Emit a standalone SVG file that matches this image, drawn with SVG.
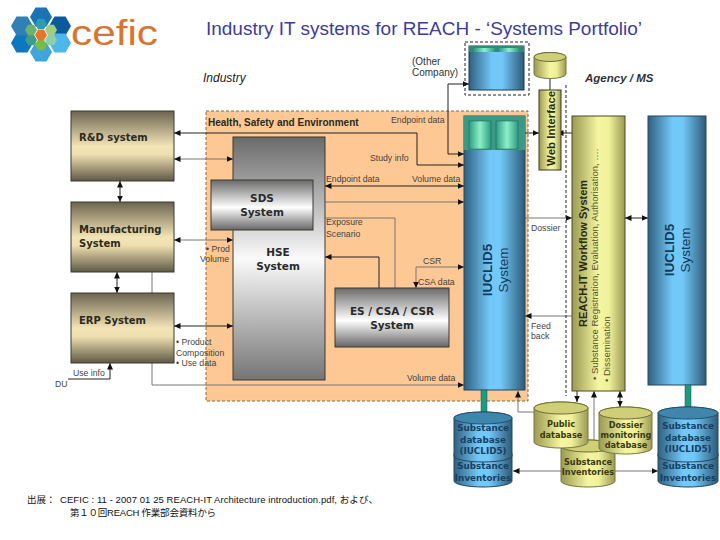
<svg xmlns="http://www.w3.org/2000/svg" width="720" height="540" viewBox="0 0 720 540">
<style>
text{font-family:"Liberation Sans",Arial,sans-serif}
.box{font-family:"DejaVu Sans",sans-serif;font-weight:700;font-size:10px;fill:#2c2a20}
.gb{font-family:"DejaVu Sans",sans-serif;font-weight:700;font-size:10.5px;fill:#2a2a2a;text-anchor:middle}
.lbl{font-size:8.7px;fill:#444}
.db{font-family:"DejaVu Sans",sans-serif;font-weight:700;font-size:8.8px;fill:#17405f;text-anchor:middle}
.dby{font-family:"DejaVu Sans",sans-serif;font-weight:700;font-size:8.2px;fill:#3a3a10;text-anchor:middle}
.l{fill:none;stroke:#222;stroke-width:1;marker-end:url(#a)}
.g{fill:none;stroke:#777;stroke-width:1;marker-end:url(#a)}
.b{marker-start:url(#a)}
.n{marker-end:none}
.edge{stroke:#3a3a30;stroke-width:1}
.dash{fill:none;stroke:#222;stroke-width:1;stroke-dasharray:3 2}
.top-b{fill:#3f86ad;stroke:#24506c}
.top-y{fill:#cfcf78;stroke:#6e6e30}
</style>
<defs>
<marker id="a" markerUnits="userSpaceOnUse" markerWidth="7" markerHeight="7" refX="6.5" refY="3" orient="auto-start-reverse"><path d="M0 0L6.500 3L0 6Z" fill="#111"/></marker>
<linearGradient id="tan" x1="0" y1="0" x2="0" y2="1"><stop offset="0" stop-color="#6b6450"/><stop offset=".5" stop-color="#f3e4b6"/><stop offset=".62" stop-color="#efe0b0"/><stop offset="1" stop-color="#5e5946"/></linearGradient>
<linearGradient id="grey" x1="0" y1="0" x2="0" y2="1"><stop offset="0" stop-color="#6a6a6a"/><stop offset=".55" stop-color="#fff"/><stop offset="1" stop-color="#666"/></linearGradient>
<linearGradient id="hse" x1="0" y1="0" x2="0" y2="1"><stop offset="0" stop-color="#6a6a6a"/><stop offset=".5" stop-color="#fafafa"/><stop offset="1" stop-color="#757575"/></linearGradient>
<linearGradient id="blue" x1="0" y1="0" x2="1" y2="0"><stop offset="0" stop-color="#2f6080"/><stop offset=".42" stop-color="#72c8f8"/><stop offset=".6" stop-color="#72c8f8"/><stop offset="1" stop-color="#2d5a78"/></linearGradient>
<linearGradient id="yel" x1="0" y1="0" x2="1" y2="0"><stop offset="0" stop-color="#9a9a52"/><stop offset=".5" stop-color="#f6f6a2"/><stop offset=".7" stop-color="#f0f09a"/><stop offset="1" stop-color="#9a9a52"/></linearGradient>
<linearGradient id="grn" x1="0" y1="0" x2="1" y2="0"><stop offset="0" stop-color="#2f9c80"/><stop offset=".5" stop-color="#8cf0c8"/><stop offset="1" stop-color="#2f9c80"/></linearGradient>
<polygon id="hx" points="-11,0 -5.500,-9.500 5.500,-9.500 11,0 5.500,9.500 -5.500,9.500"/>
<polygon id="hs" points="-6,0 -3,-5.200 3,-5.200 6,0 3,5.200 -3,5.200"/>
</defs>
<rect width="720" height="540" fill="#fff"/>

<g id="logo">
<use href="#hx" x="41" y="17" fill="#1b72b4"/><use href="#hx" x="60" y="26" fill="#0c5a9e"/><use href="#hx" x="60" y="43" fill="#4db6ea"/>
<use href="#hx" x="41" y="52" fill="#3ea6dc"/><use href="#hx" x="22" y="43" fill="#0d78c0"/><use href="#hx" x="22" y="26" fill="#2f80b4"/>
<use href="#hs" x="41" y="24" fill="#2c9cb0"/><use href="#hs" x="51" y="30" fill="#9ecf80"/><use href="#hs" x="51" y="40" fill="#8ccfa8"/>
<use href="#hs" x="41" y="45" fill="#78bc44"/><use href="#hs" x="31" y="40" fill="#3e9c88"/><use href="#hs" x="31" y="30" fill="#6cb46c"/>
<use href="#hs" x="41" y="35" fill="#e8742a"/>
<text x="71" y="45" font-size="35" fill="#d9742e" textLength="87" lengthAdjust="spacingAndGlyphs">cefic</text>
</g>
<text x="206" y="35" font-size="17.500" fill="#3c3c9c" textLength="436" lengthAdjust="spacingAndGlyphs">Industry IT systems for REACH - ‘Systems Portfolio’</text>
<text x="203" y="82" font-size="12" font-style="italic" fill="#222">Industry</text>
<text x="585" y="82" font-size="11.500" font-weight="700" font-style="italic" fill="#333">Agency / MS</text>
<text x="412" y="65" font-size="10" fill="#333">(Other</text>
<text x="412" y="76" font-size="10" fill="#333">Company)</text>

<g id="hse-area"><rect x="206" y="111" width="322" height="290" fill="#fdc894" stroke="#7a6a50" stroke-dasharray="3 2"/>
<text x="208" y="126" font-size="10" font-weight="700" fill="#2a2a20">Health, Safety and Environment</text></g>

<g id="connectors">
<path class="l b" d="M174 133H417V165H464"/>
<path class="g b" d="M174 159H233"/>
<path class="g b" d="M174 240H233"/>
<path class="l b" d="M174 326H233"/>
<path class="l b" d="M120 181V202"/>
<path class="l b" d="M117 272V293"/>
<path class="g" d="M152 272V385H464"/>
<path class="l" d="M68 379H110V363"/>
<path class="l b" d="M325 186H464"/>
<path class="g b" d="M315 202H464"/>
<path class="g" d="M395 288V218H315"/>
<path class="l" d="M379 288V257H325"/>
<path class="g b" d="M416 288V267H464"/>
<path class="l b" d="M469 84H448V154H464"/>
<path class="l n" d="M550 79V90"/>
<path class="l b" d="M513 133H539"/>
<path class="l b" d="M557 133H582"/>
<path class="g" d="M525 218H572"/>
<path class="l b" d="M625 218H648"/>
<path class="g" d="M572 316H525"/>
<path class="l" d="M577 391V402"/>
<path class="g" d="M594 440V391"/>
<path class="l b" d="M620 391V407"/>
<path class="g" d="M534 412H518V391"/>
<path class="g" d="M561 471H513"/>
<path class="g" d="M615 471H658"/>
</g>

<g id="rd-system"><rect x="71" y="111" width="103" height="70" fill="url(#tan)" class="edge"/><text x="79" y="141" class="box">R&amp;D system</text></g>
<g id="manufacturing-system"><rect x="71" y="202" width="103" height="70" fill="url(#tan)" class="edge"/><text x="79" y="233" class="box">Manufacturing</text><text x="79" y="247" class="box">System</text></g>
<g id="erp-system"><rect x="71" y="293" width="103" height="70" fill="url(#tan)" class="edge"/><text x="79" y="324" class="box">ERP System</text></g>

<g id="hse-system"><rect x="233" y="137" width="92" height="243" fill="url(#hse)" class="edge"/><text x="278" y="256" class="gb">HSE</text><text x="278" y="270" class="gb">System</text></g>
<g id="sds-system"><rect x="211" y="180" width="102" height="50" fill="url(#grey)" class="edge"/><text x="262" y="202" class="gb">SDS</text><text x="262" y="216" class="gb">System</text></g>
<g id="es-system"><rect x="335" y="288" width="114" height="59" fill="url(#grey)" class="edge"/><text x="392" y="315" class="gb">ES / CSA / CSR</text><text x="392" y="329" class="gb">System</text></g>

<g id="other-company"><rect x="465" y="42" width="64" height="53" class="dash"/><rect x="469" y="46" width="55" height="44" fill="url(#blue)" stroke="#1d3a50"/><rect x="469" y="46" width="55" height="6" fill="#2f8a78"/><rect x="474" y="48" width="21" height="4" fill="url(#grn)"/><rect x="499" y="48" width="20" height="4" fill="url(#grn)"/></g>

<g id="iuclid-left"><rect x="464" y="116" width="61" height="274" fill="url(#blue)" stroke="#24465c"/><rect x="464" y="116" width="61" height="34" fill="#3a9a88"/><rect x="469" y="121" width="22" height="28" fill="url(#grn)" stroke="#1e5a50" stroke-width=".5"/><rect x="496" y="121" width="22" height="28" fill="url(#grn)" stroke="#1e5a50" stroke-width=".5"/>
<text transform="translate(492 270) rotate(-90)" font-size="13.500" font-weight="700" fill="#123c5a" text-anchor="middle">IUCLID5</text><text transform="translate(508 270) rotate(-90)" font-size="13.500" fill="#123c5a" text-anchor="middle">System</text></g>

<g id="web-db"><path d="M534 57A16 4.500 0 0 1 566 57V74A16 4.500 0 0 1 534 74Z" fill="url(#yel)" stroke="#777740"/><ellipse cx="550" cy="57" rx="16" ry="4.500" class="top-y"/></g>
<g id="web-interface"><rect x="539" y="90" width="22" height="80" fill="url(#yel)" stroke="#3a3a20"/><text transform="translate(555 166) rotate(-90)" font-size="11.500" font-weight="700" fill="#2a2a10">Web Interface</text></g>

<g id="reach-it"><rect x="572" y="116" width="53" height="275" fill="url(#yel)" stroke="#4a4a28"/>
<text transform="translate(587 327) rotate(-90)" font-size="11" font-weight="700" fill="#2a2a14">REACH-IT Workflow System</text>
<text transform="translate(598 380) rotate(-90)" font-size="9.500" fill="#555530">• Substance Registration, Evaluation, Authorisation, ….</text>
<text transform="translate(610 382) rotate(-90)" font-size="9.500" fill="#555530">• Dissemination</text></g>

<g id="iuclid-right"><rect x="648" y="116" width="58" height="269" fill="url(#blue)" stroke="#24465c"/>
<text transform="translate(674 250) rotate(-90)" font-size="13.500" font-weight="700" fill="#123c5a" text-anchor="middle">IUCLID5</text><text transform="translate(690 250) rotate(-90)" font-size="13.500" fill="#123c5a" text-anchor="middle">System</text></g>

<rect x="481" y="390" width="6" height="23" fill="#1f9a80" stroke="#0f5a48" stroke-width=".5"/>
<rect x="685" y="385" width="6" height="23" fill="#1f9a80" stroke="#0f5a48" stroke-width=".5"/>
<path d="M566 85V396" class="dash"/>

<g id="substance-db-left">
<path d="M454 454A29 6 0 0 1 512 454V481A29 6 0 0 1 454 481Z" fill="url(#blue)" stroke="#24465c"/>
<path d="M454 418A29 6 0 0 1 512 418V456A29 6 0 0 1 454 456Z" fill="url(#blue)" stroke="#24465c"/>
<ellipse cx="483" cy="418" rx="29" ry="6" class="top-b"/>
<text x="483" y="431" class="db">Substance</text><text x="483" y="443" class="db">database</text><text x="483" y="454" class="db">(IUCLID5)</text><text x="483" y="469" class="db">Substance</text><text x="483" y="481" class="db">Inventories</text></g>

<g id="substance-inventories">
<path d="M561 446A27 6 0 0 1 615 446V481A27 6 0 0 1 561 481Z" fill="url(#yel)" stroke="#777740"/>
<ellipse cx="588" cy="446" rx="27" ry="6" class="top-y"/>
<text x="588" y="465" class="dby">Substance</text><text x="588" y="475" class="dby">Inventories</text></g>

<g id="public-db">
<path d="M534 408A27 6 0 0 1 588 408V442A27 6 0 0 1 534 442Z" fill="url(#yel)" stroke="#777740"/>
<ellipse cx="561" cy="408" rx="27" ry="6" class="top-y"/>
<text x="561" y="427" class="dby">Public</text><text x="561" y="438" class="dby">database</text></g>

<g id="dossier-db">
<path d="M599 413A26.500 6 0 0 1 652 413V448A26.500 6 0 0 1 599 448Z" fill="url(#yel)" stroke="#777740"/>
<ellipse cx="625.500" cy="413" rx="26.500" ry="6" class="top-y"/>
<text x="626" y="428" class="dby">Dossier</text><text x="626" y="438" class="dby">monitoring</text><text x="626" y="448" class="dby">database</text></g>

<g id="substance-db-right">
<path d="M658 454A30 6 0 0 1 718 454V481A30 6 0 0 1 658 481Z" fill="url(#blue)" stroke="#24465c"/>
<path d="M658 413A30 6 0 0 1 718 413V456A30 6 0 0 1 658 456Z" fill="url(#blue)" stroke="#24465c"/>
<ellipse cx="688" cy="413" rx="30" ry="6" class="top-b"/>
<text x="688" y="429" class="db">Substance</text><text x="688" y="441" class="db">database</text><text x="688" y="452" class="db">(IUCLID5)</text><text x="688" y="469" class="db">Substance</text><text x="688" y="481" class="db">Inventories</text></g>

<g id="labels">
<text x="391" y="123" class="lbl">Endpoint data</text>
<text x="370" y="161" class="lbl">Study info</text>
<text x="326" y="182" class="lbl">Endpoint data</text>
<text x="412" y="182" class="lbl">Volume data</text>
<text x="326" y="225" class="lbl">Exposure</text>
<text x="326" y="237" class="lbl">Scenario</text>
<text x="423" y="264" class="lbl">CSR</text>
<text x="418" y="285" class="lbl">CSA data</text>
<text x="407" y="381" class="lbl">Volume data</text>
<text x="531" y="231" class="lbl">Dossier</text>
<text x="531" y="329" class="lbl">Feed</text>
<text x="531" y="339" class="lbl">back</text>
<text x="206" y="252" class="lbl">• Prod</text>
<text x="200" y="262" class="lbl">Volume</text>
<text x="176" y="345" class="lbl">• Product</text>
<text x="176" y="356" class="lbl">Composition</text>
<text x="176" y="366" class="lbl">• Use data</text>
<text x="73" y="376" class="lbl">Use info</text>
<text x="55" y="387" class="lbl">DU</text>
</g>

<g id="source" font-size="9.500" fill="#111">
<text x="27" y="503" style="font-family:'Liberation Sans','Noto Sans CJK JP',sans-serif">出展：</text>
<text x="60" y="503" textLength="318" style="font-family:'Liberation Sans','Noto Sans CJK JP',sans-serif">CEFIC : 11 - 2007 01 25 REACH-IT Architecture introduction.pdf, および、</text>
<text x="70" y="516" textLength="146" style="font-family:'Liberation Sans','Noto Sans CJK JP',sans-serif">第１０回REACH 作業部会資料から</text>
</g>
</svg>
